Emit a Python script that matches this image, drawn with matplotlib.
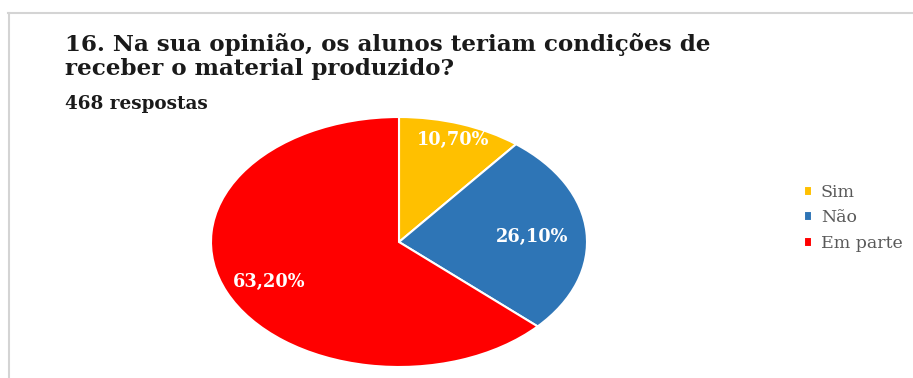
import matplotlib
matplotlib.use("Agg")
from matplotlib import pyplot as plt
from matplotlib.lines import Line2D

titulo = "16. Na sua opinião, os alunos teriam condições de\nreceber o material produzido?"
subtitulo = "468 respostas"
categorias = ["Sim", "Não", "Em parte"]
percentuais = [10.7, 26.1, 63.2]
cores = ["#FFC000", "#2E75B6", "#FF0000"]

W, H = 913, 378
fig = plt.figure(figsize=(W / 100, H / 100), dpi=100)
fig.patch.set_facecolor("white")

# moldura cinza clara (topo e lado esquerdo)
fig.add_artist(Line2D([8 / W, 1], [1 - 12.5 / H] * 2, color="#d4d4d4", lw=1.5))
fig.add_artist(Line2D([9 / W] * 2, [0, 1 - 12.5 / H], color="#d4d4d4", lw=1.5))

fig.text(65 / W, 1 - 33 / H, titulo, ha="left", va="top", family="DejaVu Serif",
         weight="bold", fontsize=16.6, color="#1a1a1a", linespacing=1.12)
fig.text(65 / W, 1 - 104 / H, subtitulo, ha="left", va="center", family="DejaVu Serif",
         weight="bold", fontsize=13.2, color="#1a1a1a")

# pizza achatada: eixo com escala diferente em x e y
cx, cy, rx, ry = 399, 242, 188, 125
ax = fig.add_axes([(cx - rx) / W, 1 - (cy + ry) / H, 2 * rx / W, 2 * ry / H])
wedges, textos = ax.pie(percentuais, colors=cores, startangle=90, counterclock=False,
                        radius=1, wedgeprops=dict(edgecolor="white", linewidth=1.5))
ax.set_aspect("auto")
ax.set_xlim(-1, 1)
ax.set_ylim(-1, 1)
ax.axis("off")

# rótulos de porcentagem
pos_rot = [(0.29, 0.82), (0.71, 0.04), (-0.69, -0.32)]
for (x, y), p in zip(pos_rot, percentuais):
    ax.text(x, y, f"{p:.2f}%".replace(".", ","), ha="center", va="center",
            family="DejaVu Serif", weight="bold", fontsize=12.8, color="white")

leg = fig.legend(wedges, categorias, loc="center left",
                 bbox_to_anchor=(788 / W, 1 - 218 / H), frameon=False,
                 handlelength=0.5, handleheight=0.5, handletextpad=0.5,
                 labelspacing=0.5, prop=dict(family="DejaVu Serif", size=12.5))
for t in leg.get_texts():
    t.set_color("#595959")

fig.savefig("out.png", dpi=100)
